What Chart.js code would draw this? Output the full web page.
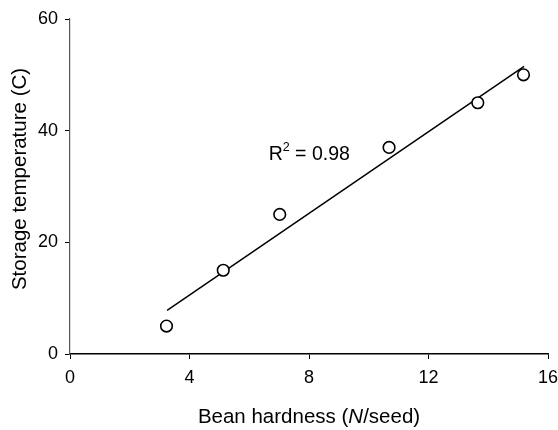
<!DOCTYPE html>
<html>
<head>
<meta charset="utf-8">
<script src="https://cdn.jsdelivr.net/npm/chart.js@4/dist/chart.umd.min.js"></script>
<style>
  html, body { margin: 0; padding: 0; background: #fff; }
  #wrap { width: 558px; height: 430px; position: relative; }
</style>
</head>
<body>
<div id="wrap"><canvas id="c" width="558" height="430"></canvas></div>
<script>
// Data
const hardness = [3.23, 5.13, 7.02, 10.68, 13.65, 15.18];
const temperature = [5, 15, 25, 37, 45, 50];
const fitX = [3.25, 15.2];
const fitY = [7.8, 51.5];
const xTickValues = [0, 4, 8, 12, 16];
const yTickValues = [0, 20, 40, 60];
const xTitleParts = [["Bean hardness (", false], ["N", true], ["/seed)", false]];
const yTitle = "Storage temperature (C)";
const r2Label = ["R", "2", " = 0.98"];

const FONT = '"Liberation Sans", Arial, sans-serif';
const TITLE_SIZE = 20.5;

const scatterPts = hardness.map((x, i) => ({ x: x, y: temperature[i] }));
const fitPts = fitX.map((x, i) => ({ x: x, y: fitY[i] }));

const textPlugin = {
  id: 'texts',
  afterDraw(chart) {
    const ctx = chart.ctx;
    const ca = chart.chartArea;
    const xs = chart.scales.x, ys = chart.scales.y;
    ctx.save();
    ctx.fillStyle = '#000';
    // X title with italic N
    ctx.textBaseline = 'alphabetic';
    ctx.textAlign = 'left';
    let widths = xTitleParts.map(p => {
      ctx.font = (p[1] ? 'italic ' : '') + TITLE_SIZE + 'px ' + FONT;
      return ctx.measureText(p[0]).width;
    });
    const total = widths.reduce((a, b) => a + b, 0);
    let x = (ca.left + ca.right) / 2 - total / 2;
    const yb = 422.5;
    xTitleParts.forEach((p, i) => {
      ctx.font = (p[1] ? 'italic ' : '') + TITLE_SIZE + 'px ' + FONT;
      ctx.fillText(p[0], x, yb);
      x += widths[i];
    });
    // Y title rotated
    ctx.save();
    ctx.translate(25.5, 179);
    ctx.rotate(-Math.PI / 2);
    ctx.textAlign = 'center';
    ctx.font = TITLE_SIZE + 'px ' + FONT;
    ctx.fillText(yTitle, 0, 0);
    ctx.restore();
    // R^2 annotation
    let ax = xs.getPixelForValue(6.65);
    const ay = ys.getPixelForValue(34.8);
    ctx.textAlign = 'left';
    ctx.font = '19.5px ' + FONT;
    ctx.fillText(r2Label[0], ax, ay);
    ax += ctx.measureText(r2Label[0]).width;
    ctx.font = '12.5px ' + FONT;
    ctx.fillText(r2Label[1], ax, ay - 8.5);
    ax += ctx.measureText(r2Label[1]).width;
    ctx.font = '19.5px ' + FONT;
    ctx.fillText(r2Label[2], ax, ay);
    ctx.restore();
  }
};

new Chart(document.getElementById('c'), {
  type: 'scatter',
  data: {
    datasets: [
      {
        type: 'line',
        data: fitPts,
        borderColor: '#000',
        borderWidth: 1.5,
        pointRadius: 0,
        fill: false,
        order: 2
      },
      {
        type: 'scatter',
        data: scatterPts,
        pointStyle: 'circle',
        pointRadius: 5.8,
        pointBorderWidth: 1.6,
        borderColor: '#000',
        backgroundColor: '#fff',
        order: 1
      }
    ]
  },
  options: {
    responsive: false,
    animation: false,
    devicePixelRatio: 1,
    layout: { padding: { top: 19, right: 10, left: 0, bottom: 0 } },
    plugins: { legend: { display: false }, tooltip: { enabled: false } },
    scales: {
      x: {
        type: 'linear',
        min: 0, max: 16,
        afterBuildTicks: s => { s.ticks = xTickValues.map(v => ({ value: v })); },
        afterFit: s => { s.height = 76; s.paddingLeft = 0; s.paddingRight = 0; },
        grid: { drawOnChartArea: false, drawTicks: true, tickLength: 5, color: '#000', lineWidth: 1 },
        border: { color: '#000', width: 1.5 },
        ticks: { color: '#000', font: { family: FONT, size: 18 }, padding: 8, maxRotation: 0 }
      },
      y: {
        type: 'linear',
        min: 0, max: 60,
        afterBuildTicks: s => { s.ticks = yTickValues.map(v => ({ value: v })); },
        afterFit: s => { s.width = 70; s.paddingTop = 0; s.paddingBottom = 0; },
        grid: { drawOnChartArea: false, drawTicks: true, tickLength: 5, color: '#000', lineWidth: 1 },
        border: { color: '#555', width: 1.2 },
        ticks: { color: '#000', font: { family: FONT, size: 18 }, padding: 7 }
      }
    }
  },
  plugins: [textPlugin]
});
</script>
</body>
</html>
